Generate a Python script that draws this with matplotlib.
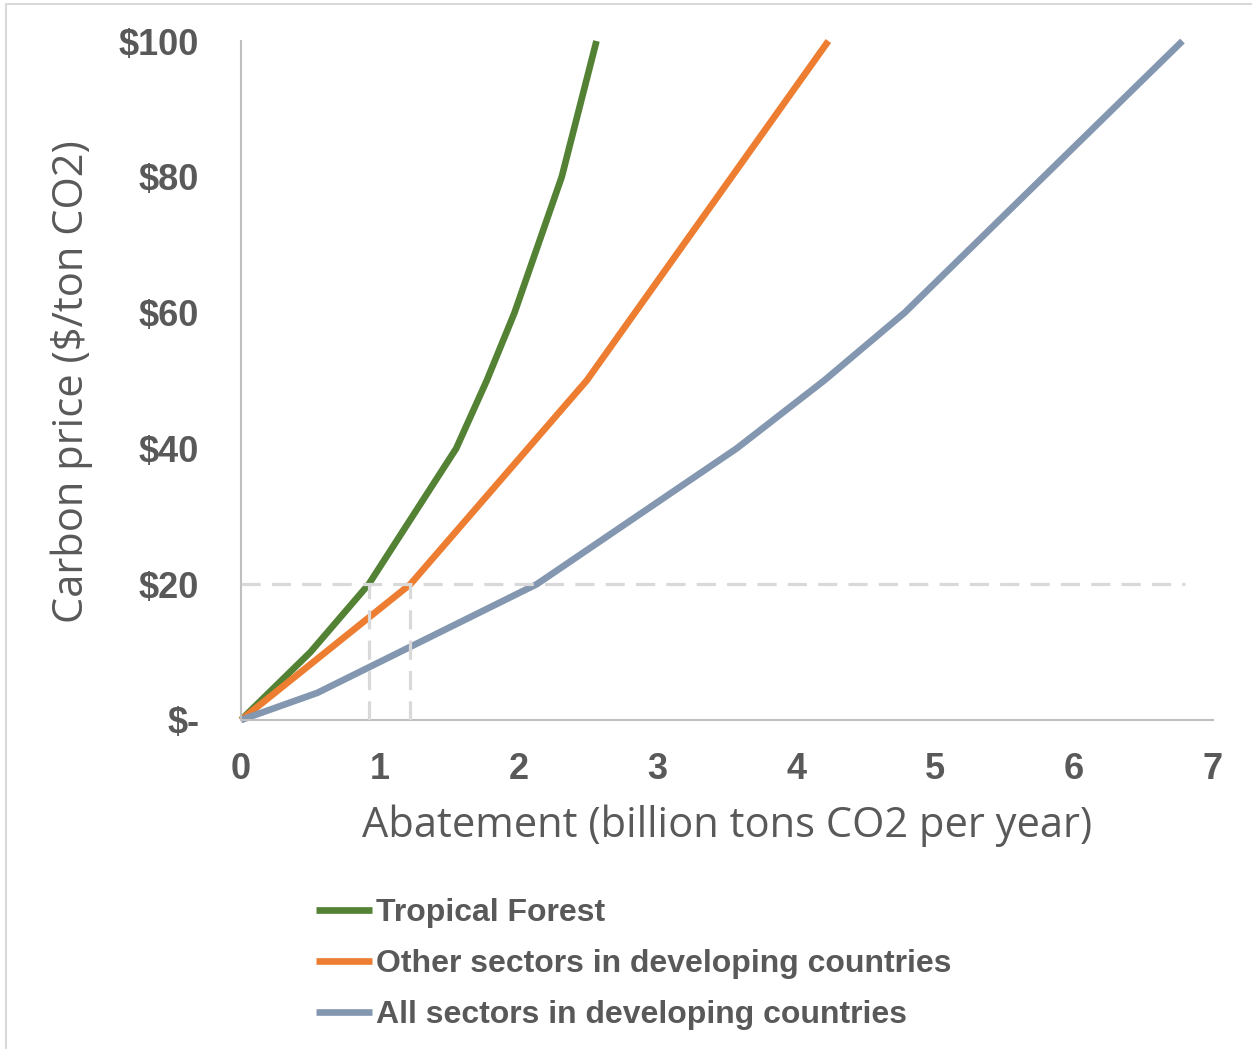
import matplotlib
matplotlib.use("Agg")
import matplotlib.pyplot as plt
from matplotlib.patches import Rectangle
from matplotlib.font_manager import FontProperties

# Marginal abatement cost curves: abatement (GtCO2/yr) vs carbon price ($/tCO2)
forest_x = [0, 0.50, 0.92, 1.55, 1.77, 1.97, 2.31, 2.56]
forest_y = [0, 10, 20, 40, 50, 60, 80, 100]

other_x = [0, 1.22, 2.49, 4.23]
other_y = [0, 20, 50, 100]

all_x = [0, 0.55, 2.13, 3.57, 4.20, 4.78, 5.78, 6.78]
all_y = [0, 4, 20, 40, 50, 60, 80, 100]

series_labels = ["Tropical Forest",
                 "Other sectors in developing countries",
                 "All sectors in developing countries"]

ref_price = 20
ref_line_end = 6.8

y_ticks = [0, 20, 40, 60, 80, 100]
y_tick_labels = ["$-", "$20", "$40", "$60", "$80", "$100"]
x_ticks = [0, 1, 2, 3, 4, 5, 6, 7]
x_tick_labels = ["0", "1", "2", "3", "4", "5", "6", "7"]

GREEN = "#548235"
ORANGE = "#ED7D31"
BLUE = "#8497B0"
TEXT = "#595959"
AXIS = "#BFBFBF"
DASH = "#D9D9D9"

W, H = 1252, 1049
fig = plt.figure(figsize=(W / 100, H / 100), dpi=100)
ax = fig.add_axes([241 / W, 1 - 720 / H, (1213 - 241) / W, (720 - 41) / H])

lw = 4.8
line_kw = dict(lw=lw, solid_capstyle="butt", solid_joinstyle="round", clip_on=False)
l1, = ax.plot(forest_x, forest_y, color=GREEN, label=series_labels[0], **line_kw)
l2, = ax.plot(other_x, other_y, color=ORANGE, label=series_labels[1], **line_kw)
l3, = ax.plot(all_x, all_y, color=BLUE, label=series_labels[2], **line_kw)

# Reference lines at the $20 price point
dash_kw = dict(color=DASH, lw=2.3, dashes=(6, 3.5), zorder=5)
ax.plot([0, ref_line_end], [ref_price, ref_price], **dash_kw)
for xs, ys in [(forest_x, forest_y), (other_x, other_y)]:
    x_at_ref = xs[ys.index(ref_price)]
    ax.plot([x_at_ref, x_at_ref], [0, ref_price], **dash_kw)

ax.set_xlim(0, 7)
ax.set_ylim(0, 100)

for side in ["top", "right"]:
    ax.spines[side].set_visible(False)
for side in ["left", "bottom"]:
    ax.spines[side].set_color(AXIS)
    ax.spines[side].set_linewidth(1.5)

ax.set_yticks(y_ticks)
ax.set_yticklabels(y_tick_labels)
ax.set_xticks(x_ticks)
ax.set_xticklabels(x_tick_labels)
tick_fp = FontProperties(family="Liberation Sans", weight="bold", size=26)
for lab in ax.get_yticklabels() + ax.get_xticklabels():
    lab.set_fontproperties(tick_fp)
    lab.set_color(TEXT)
ax.tick_params(axis="y", length=0, pad=30)
ax.tick_params(axis="x", length=0, pad=23)

label_font = dict(family="Open Sans", size=30, color=TEXT)
fig.text(727 / W, 1 - 826 / H, "Abatement (billion tons CO2 per year)",
         ha="center", va="center", **label_font)
fig.text(72 / W, 1 - 382 / H, "Carbon price ($/ton CO2)",
         ha="center", va="center", rotation=90, **label_font)

leg = fig.legend(handles=[l1, l2, l3], loc="upper left",
                 bbox_to_anchor=(316 / W, 1 - 898 / H),
                 frameon=False, handlelength=1.75, handletextpad=0.12,
                 labelspacing=0.66, borderaxespad=0, borderpad=0,
                 prop=dict(family="Liberation Sans", weight="bold", size=23))
for t in leg.get_texts():
    t.set_color(TEXT)

# Thin frame around the chart area
fig.patches.append(Rectangle((6 / W, -0.01), 1.2, 1 - 4 / H + 0.01,
                             transform=fig.transFigure, fill=False,
                             edgecolor="#D9D9D9", lw=1.5))

fig.savefig("out.png", dpi=100)
